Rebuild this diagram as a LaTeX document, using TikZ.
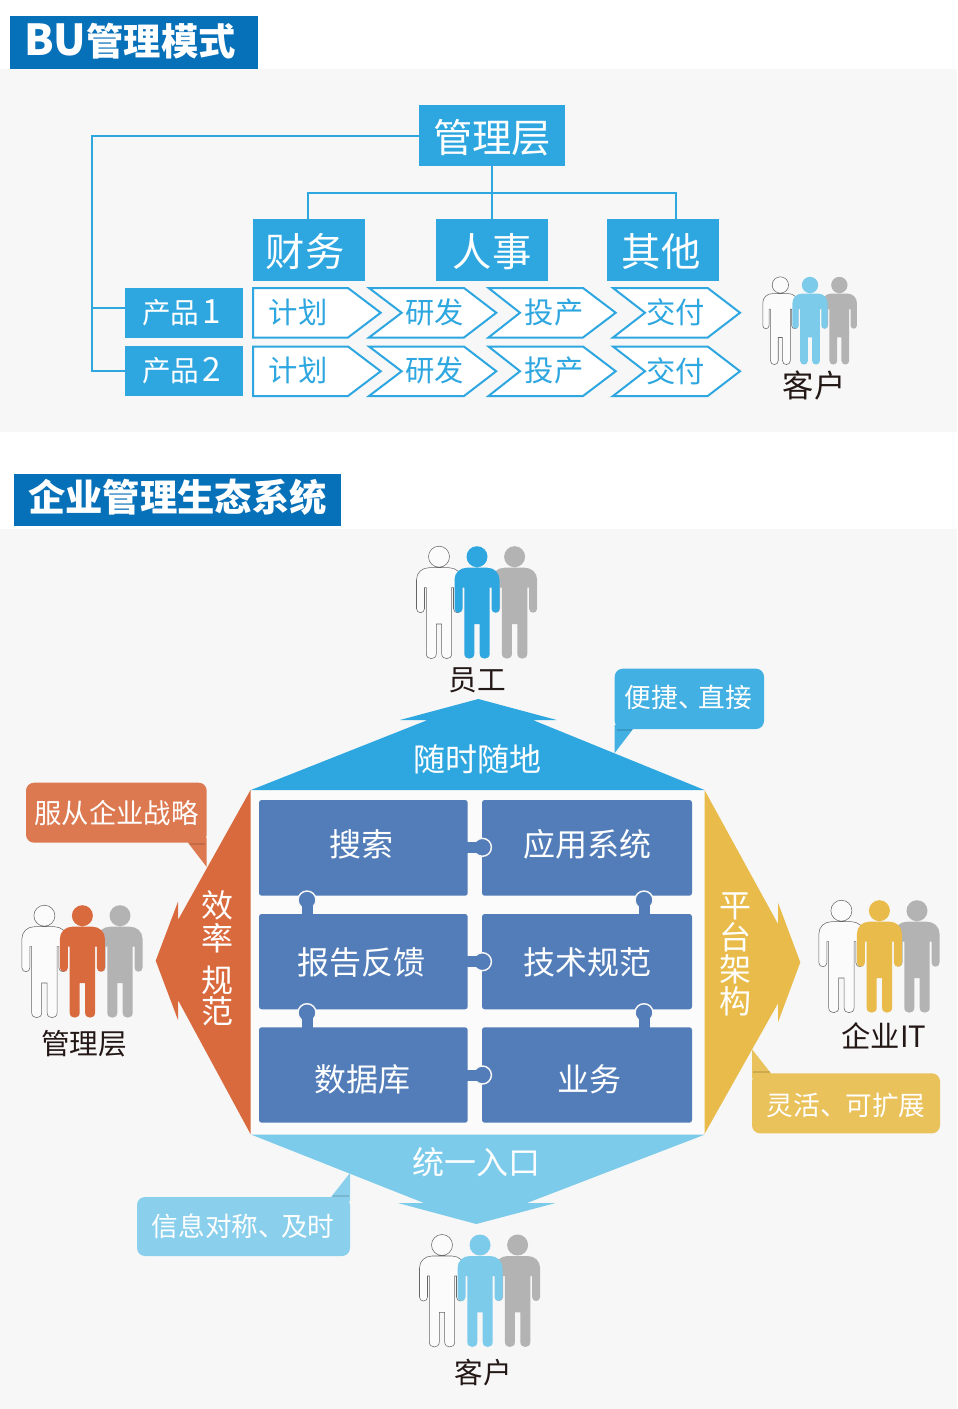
\documentclass[tikz,border=0pt]{standalone}
\usepackage{fontspec}
\setmainfont{Noto Sans CJK SC}
\usetikzlibrary{calc}
\definecolor{cyanb}{HTML}{2EA7E0}
\definecolor{titleb}{HTML}{0670B8}
\definecolor{panel}{HTML}{F7F7F7}
\definecolor{lightb}{HTML}{7DCBEB}
\definecolor{orangeb}{HTML}{D96A3E}
\definecolor{yellowb}{HTML}{E8BB4A}
\definecolor{steel}{HTML}{527DB8}
\definecolor{ink}{HTML}{231815}
\definecolor{grayp}{HTML}{B3B3B3}
\newcommand\fs[1]{\fontsize{#1}{#1}\selectfont}
\newcommand\dn[1]{\raisebox{-1.5pt}[\height][\depth]{#1}}
\tikzset{
  wh/.style 2 args={minimum width=#1*0.75pt,minimum height=#2*0.75pt,inner sep=0pt,outer sep=0pt},
  titlebox/.style={fill=titleb,minimum width=10pt},
  titletext/.style={text=white,inner sep=0pt,font=\bfseries\fs{28}},
  orgbox/.style={fill=cyanb,text=white,font=\fs{29.5}},
  prodbox/.style={fill=cyanb,text=white,font=\fs{21.5}},
  conn/.style={draw=cyanb,line width=1.5pt},
  stepshape/.style={draw=cyanb,fill=white,line width=1.5pt,line join=miter},
  steptext/.style={text=cyanb,font=\fs{22},inner sep=0pt},
  plabel/.style={text=ink,font=\fs{21.5},inner sep=0pt},
  wlabel/.style={text=white,font=\fs{24},inner sep=0pt},
  clabel/.style={text=white,font=\fs{20},inner sep=0pt},
  puzzle/.style={fill=steel,rounded corners=2pt},
  ptext/.style={text=white,font=\fs{24},inner sep=0pt},
  tailshade/.style={fill=black,opacity=0.12},
}
\newcommand\bodypath{(0,0) circle[radius=10.5]
 (-10,11) -- (10,11) .. controls (17,11) and (22.5,16) .. (22.5,23) -- (22.5,52)
 .. controls (22.5,57.3) and (14.5,57.3) .. (14.5,52) -- (14.5,31) -- (12.7,31) -- (12.7,97)
 .. controls (12.7,103.6) and (2.7,103.6) .. (2.7,97) -- (2.7,67.3) -- (-2.7,67.3) -- (-2.7,97)
 .. controls (-2.7,103.6) and (-12.7,103.6) .. (-12.7,97) -- (-12.7,31) -- (-14.5,31) -- (-14.5,52)
 .. controls (-14.5,57.3) and (-22.5,57.3) .. (-22.5,52) -- (-22.5,23) .. controls (-22.5,16) and (-17,11) .. (-10,11) -- cycle}
\newcommand\person[4]{%
 \begin{scope}[shift={(#1,#2)},scale=#3]
  \fill[grayp,shift={(37.6,0)}] \bodypath;
  \filldraw[fill=white!50!panel,draw=black!60,line width=0.4pt,shift={(-38,0)}] \bodypath;
  \fill[#4] \bodypath;
 \end{scope}}
\newcommand\chev[6]{\draw[stepshape] (#1,#5) -- (#3,#5) -- (#4,{(#5+#6)/2}) -- (#3,#6) -- (#1,#6) -- (#2,{(#5+#6)/2}) -- cycle;}
\newcommand\knobH[2]{%
 \filldraw[fill=steel,draw=panel,line width=1.1pt] (#1,#2) circle[radius=9];
 \fill[steel] (#1-15,#2-5.5) rectangle (#1-4,#2+5.5);}
\newcommand\knobV[2]{%
 \filldraw[fill=steel,draw=panel,line width=1.1pt] (#1,#2) circle[radius=9];
 \fill[steel] (#1-5.5,#2+5) rectangle (#1+5.5,#2+15);}
\begin{document}
\begin{tikzpicture}[x=0.75pt,y=-0.75pt]
\useasboundingbox (0,0) rectangle (957,1409);
\fill[white] (0,0) rectangle (957,1409);
\fill[panel] (0,69) rectangle (957,432);
\fill[panel] (0,529) rectangle (957,1409);

% ---- section 1
\node[titlebox,wh={248}{53}] (t1) at (133.5,42.5) {};
\node[titletext] (t1t) at (130,41.5) {{\fs{32}BU}管理模式};
\node[orgbox,wh={146}{61}] (mgmt) at (492,135.5) {\dn{管理层}};
\node[orgbox,wh={112}{62}] (fin) at (309,250) {\dn{财务}\kern6pt};
\node[orgbox,wh={112}{62}] (hr) at (492,250) {\dn{人事}};
\node[orgbox,wh={112}{62}] (oth) at (663,250) {\dn{其他}\kern3pt};
\node[prodbox,wh={118.5}{49.5}] (p1) at (183.75,312.75) {产品\kern2.5pt{\fs{25}1}\kern3pt};
\node[prodbox,wh={118.5}{50}] (p2) at (183.75,371) {产品\kern2.5pt{\fs{25}2}\kern3pt};

\coordinate (bus) at (92,136);
\coordinate (tap1) at (92,308);
\coordinate (tap2) at (92,371);
\coordinate (hubL) at (308,193);
\coordinate (hubR) at (676,193);
\draw[conn] (mgmt.west |- bus) -- (bus) -- (tap2) -- (p2.west |- tap2);
\draw[conn] (tap1) -- (p1.west |- tap1);
\draw[conn] (mgmt.south) -- (hr.north);
\draw[conn] (fin.north -| hubL) -- (hubL) -- (hubR) -- (oth.north -| hubR);

\chev{253}{253}{348}{380.7}{288}{337.5}
\chev{369}{401.7}{464}{496.3}{288}{337.5}
\chev{488.5}{520}{583}{615.7}{288}{337.5}
\chev{613}{645}{707.7}{740}{288}{337.5}
\chev{253}{253}{348}{380.7}{346.5}{396}
\chev{369}{401.7}{464}{496.3}{346.5}{396}
\chev{488.5}{520}{583}{615.7}{346.5}{396}
\chev{613}{645}{707.7}{740}{346.5}{396}
\node[steptext] (a1) at (298,312.3) {计划};
\node[steptext] (a2) at (434.5,312.3) {研发};
\node[steptext] (a3) at (554,312.3) {投产};
\node[steptext] (a4) at (675.5,312.3) {交付};
\node[steptext] (b1) at (298,370.8) {计划};
\node[steptext] (b2) at (434.5,370.8) {研发};
\node[steptext] (b3) at (554,370.8) {投产};
\node[steptext] (b4) at (675.5,370.8) {交付};

\person{810}{285}{0.78}{lightb}
\node[plabel,font=\fs{23.5}] (c1) at (814,385.5) {客户};

% ---- section 2
\node[titlebox,wh={327}{52}] (t2) at (177.5,500) {};
\node[titletext] (t2t) at (177.5,497.5) {企业管理生态系统};

% callouts (behind the arrows)
\fill[rounded corners=6pt,fill=cyanb!90!white] (614.7,668.7) rectangle (764,729);
\fill[cyanb!90!white] (614.7,725) -- (614.7,753) -- (633,729) -- (633,725) -- cycle;
\fill[tailshade] (617,729) rectangle (632,731);
\fill[rounded corners=6pt,fill=orangeb!90!white] (26,782.7) rectangle (206.7,842.7);
\fill[orangeb!90!white] (206.7,838) -- (206.7,867) -- (188,842.7) -- (188,838) -- cycle;
\fill[tailshade] (190,842.7) rectangle (205,844.7);
\fill[rounded corners=6pt,fill=yellowb!90!white] (752,1073.3) rectangle (940,1133.3);
\fill[yellowb!90!white] (752,1078) -- (752,1049.3) -- (771,1073.3) -- (771,1078) -- cycle;
\fill[tailshade] (753,1071.3) rectangle (770,1073.3);
\fill[rounded corners=6pt,fill=lightb!90!white] (137,1197) rectangle (350,1256);
\fill[lightb!90!white] (350,1201) -- (350,1173) -- (331,1197) -- (331,1201) -- cycle;
\fill[tailshade] (333,1195) rectangle (349,1197);

% frame
\fill[white!50!panel] (251,790) rectangle (705,1134);
% arrows
\fill[cyanb] (251,790) -- (427.7,720) -- (400,720) -- (478.3,699) -- (556.7,720) -- (532.7,720) -- (704.5,790) -- cycle;
\fill[orangeb] (250.5,790) -- (178,920) -- (178,901.7) -- (155.7,960.7) -- (178,1020) -- (178,1000) -- (250.5,1134) -- cycle;
\fill[yellowb] (704.5,790) -- (778,924) -- (778,902.7) -- (800.3,962.3) -- (778,1022.3) -- (778,1003.3) -- (704.5,1134) -- cycle;
\fill[lightb] (251,1134.5) -- (705,1134.5) -- (527,1203) -- (555.6,1203) -- (476.3,1224) -- (398,1203) -- (424,1203) -- cycle;

\node[wlabel] (up) at (477,759.5) {随时随地};
\node[wlabel] (down) at (476.5,1162.5) {统一入口};
\node[wlabel,align=center] (lft) at (217,958) {效\\[0.7pt]率\\[7.5pt]规\\[-0.7pt]范};
\node[wlabel,align=center] (rgt) at (735,954) {平\\台\\架\\构};

\node[clabel] (n1) at (688.5,697) {便捷、\kern-4.5pt直接};
\node[clabel,font=\fs{20.5}] (n2) at (116.5,813) {服从企业战略};
\node[clabel] (n3) at (846,1105) {灵活、\kern-1pt可扩展};
\node[clabel] (n4) at (243,1226) {信息对称、\kern-3pt及时};

% puzzle
\node[puzzle,wh={208.7}{95.7}] (s1) at (363.35,847.85) {};
\node[puzzle,wh={210}{95.7}] (s2) at (587,847.85) {};
\node[puzzle,wh={208.7}{95.3}] (s3) at (363.35,961.65) {};
\node[puzzle,wh={210}{95.3}] (s4) at (587,961.65) {};
\node[puzzle,wh={208.7}{95.4}] (s5) at (363.35,1075) {};
\node[puzzle,wh={210}{95.4}] (s6) at (587,1075) {};
\knobH{482.4}{847.3}
\knobH{482.4}{961.7}
\knobH{482.4}{1075}
\knobV{307}{900}
\knobV{644}{900}
\knobV{307}{1012.7}
\knobV{644}{1012.7}
\node[ptext] (s1t) at (361.7,844.3) {搜索};
\node[ptext] (s2t) at (587,844.3) {应用系统};
\node[ptext] (s3t) at (361.7,962) {报告反馈};
\node[ptext] (s4t) at (587,962) {技术规范};
\node[ptext] (s5t) at (362,1079) {数据库};
\node[ptext] (s6t) at (589.6,1079) {业务};

% people
\person{477}{556.7}{1}{cyanb}
\node[plabel] (c2) at (477,680.5) {员工};
\person{82.4}{915.7}{1}{orangeb}
\node[plabel] (c3) at (84,1043.5) {管理层};
\person{879.4}{910.7}{1}{yellowb}
\node[plabel,font=\fs{22}] (c4) at (884,1036) {企业IT};
\person{480}{1245}{1}{lightb}
\node[plabel] (c5) at (483,1372.5) {客户};
\end{tikzpicture}
\end{document}
